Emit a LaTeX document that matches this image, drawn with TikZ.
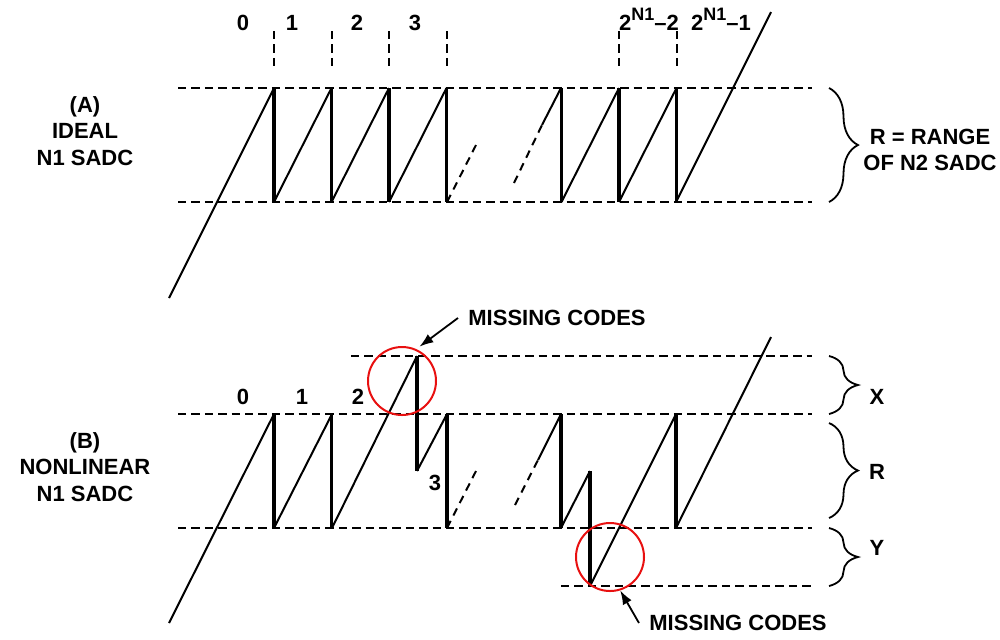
\documentclass[tikz,border=0pt]{standalone}
\usepackage{fontspec}
\setmainfont{Liberation Sans}
\usepackage{tikz}
\usetikzlibrary{arrows.meta,positioning,decorations.pathreplacing}
\definecolor{mcred}{RGB}{232,16,16}
\newcommand{\pwr}[1]{2\raisebox{0.42em}{\fontsize{9}{9}\selectfont N1}–#1}
\tikzset{
  guide/.style={line width=1pt,dash pattern=on 4.2pt off 2.5pt},
  ramp/.style={line width=1pt},
  rampd/.style={ramp,dash pattern=on 4pt off 3pt},
  jump/.style={line width=1.6pt},
  lbl/.style={font=\fontsize{11}{13.3}\selectfont\bfseries,inner sep=1pt,align=center},
  miss/.style={circle,draw=mcred,line width=1pt,minimum size=34pt,inner sep=0pt},
  ptr/.style={-{Latex[length=7pt,width=5pt]},line width=0.9pt},
  brc/.style={decorate,decoration={brace,amplitude=14.5pt},line width=0.9pt},
}

\begin{document}
\begin{tikzpicture}[x=0.5pt,y=-0.5pt]
  \useasboundingbox (0,0) rectangle (1000,639);
  \def\tw{57.5}\def\xo{274}

  % ---------------- panoul A: N1 SADC ideal ----------------
  \node[lbl] (namea) at (85,131) {(A)\\IDEAL\\N1 SADC};
  \draw[guide] (178,88) -- (812,88);
  \draw[guide] (178,202) -- (812,202);
  \foreach \k in {0,1,2,3,6,7}
    \draw[guide] ({\xo+\k*\tw},31) -- ({\xo+\k*\tw},69);
  \foreach \x/\t/\n in {243/0/a0,292/1/a1,357/2/a2,415/3/a3}
    \node[lbl,anchor=base] (code\n) at (\x,30) {\t};
  \node[lbl,anchor=base] (codean2) at (649,30) {\pwr{2}};
  \node[lbl,anchor=base] (codean1) at (721,30) {\pwr{1}};

  \draw[ramp] (169,298) -- (\xo,88);
  \foreach \k in {0,1,2,5,6}
    \draw[ramp] ({\xo+\k*\tw},202) -- ({\xo+(\k+1)*\tw},88);
  \foreach \k in {0,1,2,3,5,6,7}
    \draw[jump] ({\xo+\k*\tw},88) -- ({\xo+\k*\tw},202);
  \draw[rampd] (447,202) -- (476,145);
  \draw[rampd] (514,183) -- (542,125);
  \draw[ramp] (542,125) -- (561,88);
  \draw[ramp] (676,202) -- (771,12);

  \draw[brc] (829,88) -- (829,202);
  \node[lbl] (rangea) at (930,150) {R = RANGE\\OF N2 SADC};

  % ---------------- panoul B: N1 SADC neliniar ----------------
  \node[lbl] (nameb) at (85,467) {(B)\\NONLINEAR\\N1 SADC};
  \draw[guide] (351,356) -- (812,356);
  \draw[guide] (178,414) -- (812,414);
  \draw[guide] (178,528) -- (812,528);
  \draw[guide] (561,586) -- (812,586);
  \foreach \x/\t/\n in {243/0/b0,302/1/b1,358/2/b2}
    \node[lbl,anchor=base] (code\n) at (\x,404) {\t};
  \node[lbl,anchor=base] (codeb3) at (435,490) {3};

  \draw[ramp] (169,623) -- (\xo,414);
  \foreach \k in {0,1}
    \draw[jump] ({\xo+\k*\tw},414) -- ({\xo+\k*\tw},528);
  \draw[ramp] (\xo,528) -- (332,414);
  \draw[ramp] (332,528) -- (417,356);
  \draw[jump] (417,356) -- (417,471);
  \draw[ramp] (417,471) -- (447,414);
  \draw[jump] (447,414) -- (447,528);
  \draw[rampd] (447,528) -- (476,471);
  \draw[rampd] (515,505) -- (538,460);
  \draw[ramp] (538,460) -- (561,414);
  \draw[jump] (561,414) -- (561,528);
  \draw[ramp] (561,528) -- (590,471);
  \draw[jump] (590,471) -- (590,586);
  \draw[ramp] (590,586) -- (676,414);
  \draw[jump] (676,414) -- (676,528);
  \draw[ramp] (676,528) -- (771,337);

  \draw[brc] (829,356) -- (829,414);
  \draw[brc] (829,423) -- (829,518);
  \draw[brc] (829,528) -- (829,586);
  \node[lbl] (xb) at (877,397) {X};
  \node[lbl] (rb) at (877,472) {R};
  \node[lbl] (yb) at (877,548) {Y};

  % codurile lipsa
  \node[miss] (mcup) at (402,381) {};
  \node[miss] (mcdn) at (610,557) {};
  \node[lbl,inner xsep=5pt] (mcuptxt) at (557,318) {MISSING CODES};
  \node[lbl,inner xsep=5pt] (mcdntxt) at (738,623) {MISSING CODES};
  \draw[ptr,shorten >=2pt] (mcuptxt.west) -- (mcup.66);
  \draw[ptr] (mcdntxt.west) -- (mcdn.-73);
\end{tikzpicture}
\end{document}
